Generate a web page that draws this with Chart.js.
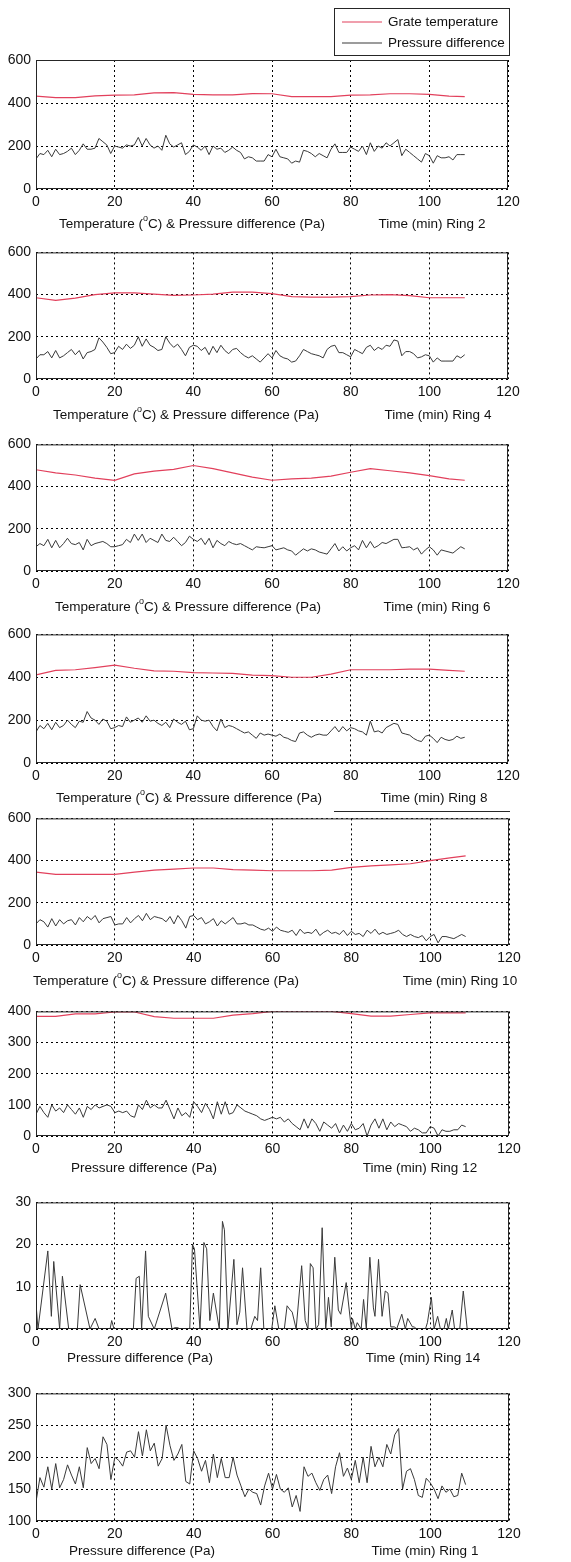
<!DOCTYPE html>
<html>
<head>
<meta charset="utf-8">
<script src="https://cdn.jsdelivr.net/npm/chart.js@4.4.1/dist/chart.umd.min.js"></script>
<style>
  html, body { margin: 0; padding: 0; background: #fff; }
  #page { position: relative; width: 571px; height: 1562px; overflow: hidden; }
  #page canvas { position: absolute; left: 0; }
</style>
</head>
<body>
<div id="page"></div>
<script>
// sampling times (min)
const minutes = Array.from({ length: 110 }, (_, i) => i);
const tempMinutes = [0, 5, 10, 15, 20, 25, 30, 35, 40, 45, 50, 55, 60, 65, 70, 75, 80, 85, 90, 95, 100, 105, 109];

// grate temperature (C)
const ring2Temp = [432, 425, 425, 433, 437, 438, 447, 448, 440, 438, 438, 444, 443, 430, 430, 430, 437, 438, 443, 443, 440, 432, 430];
const ring4Temp = [385, 373, 383, 400, 408, 408, 402, 396, 398, 402, 412, 412, 405, 390, 388, 388, 390, 398, 400, 395, 385, 385, 385];
const ring6Temp = [480, 465, 455, 440, 430, 460, 473, 482, 500, 485, 465, 445, 430, 437, 440, 450, 468, 485, 475, 465, 452, 437, 430];
const ring8Temp = [411, 432, 435, 445, 457, 442, 430, 428, 422, 420, 418, 410, 408, 400, 400, 415, 435, 435, 435, 438, 438, 432, 428];
const ring10Temp = [345, 335, 335, 335, 335, 345, 355, 360, 365, 365, 357, 355, 352, 352, 352, 355, 368, 375, 380, 385, 400, 413, 422];
const ring12Temp = [384, 384, 392, 392, 398, 398, 383, 378, 378, 378, 388, 393, 400, 400, 400, 400, 393, 385, 385, 390, 395, 395, 395];

// pressure difference (Pa), one value per minute
const ring2Pressure = [
  140, 165, 160, 180, 150, 185, 160, 165, 175, 190,
  160, 180, 210, 185, 185, 190, 235, 220, 205, 165,
  200, 195, 190, 205, 200, 205, 240, 200, 235, 205,
  190, 200, 180, 250, 210, 195, 205, 215, 160, 175,
  205, 195, 180, 200, 160, 200, 185, 190, 170, 180,
  195, 180, 170, 140, 150, 145, 130, 130, 130, 160,
  150, 185, 150, 145, 140, 120, 130, 125, 180, 175,
  165, 150, 165, 155, 145, 185, 210, 170, 170, 170,
  195, 185, 175, 200, 160, 215, 175, 200, 190, 215,
  200, 215, 230, 155, 185, 170, 155, 140, 125, 165,
  155, 120, 155, 145, 145, 150, 135, 160, 160, 160];
const ring4Pressure = [
  95, 115, 115, 130, 100, 135, 100, 110, 125, 140,
  115, 135, 95, 125, 130, 140, 195, 175, 150, 120,
  125, 155, 140, 165, 145, 160, 200, 155, 190, 160,
  150, 135, 140, 200, 170, 150, 165, 140, 110, 150,
  160, 155, 135, 150, 115, 155, 125, 160, 135, 120,
  140, 145, 125, 110, 100, 110, 95, 80, 100, 120,
  100, 135, 110, 100, 95, 80, 85, 110, 140, 130,
  120, 115, 110, 100, 140, 155, 160, 125, 125, 115,
  105, 140, 130, 120, 150, 160, 135, 150, 140, 160,
  155, 185, 180, 110, 130, 130, 120, 100, 105, 115,
  110, 80, 100, 85, 85, 85, 85, 110, 100, 115];
const ring6Pressure = [
  115, 130, 120, 150, 110, 145, 110, 130, 155, 130,
  125, 135, 100, 150, 120, 130, 135, 140, 130, 115,
  115, 120, 125, 150, 135, 175, 145, 175, 135, 155,
  145, 135, 175, 145, 140, 160, 140, 120, 135, 165,
  150, 140, 155, 125, 155, 110, 145, 130, 120, 140,
  130, 125, 130, 120, 110, 100, 115, 112, 110, 115,
  120, 100, 105, 110, 100, 95, 75, 90, 105, 95,
  105, 100, 90, 85, 80, 105, 130, 95, 115, 95,
  110, 120, 100, 145, 110, 140, 110, 120, 135, 130,
  140, 150, 150, 110, 112, 115, 100, 110, 80, 100,
  115, 100, 75, 100, 95, 90, 85, 100, 115, 105];
const ring8Pressure = [
  145, 175, 160, 185, 155, 190, 165, 175, 200, 180,
  165, 195, 190, 240, 210, 200, 180, 205, 195, 160,
  165, 175, 170, 215, 190, 200, 210, 190, 220, 195,
  200, 185, 175, 190, 165, 205, 190, 180, 195, 155,
  160, 220, 200, 195, 200, 170, 150, 205, 165, 175,
  170, 160, 150, 140, 145, 130, 115, 140, 130, 135,
  130, 125, 135, 120, 115, 105, 100, 140, 145, 130,
  120, 130, 135, 130, 130, 150, 170, 145, 170, 150,
  165, 160, 150, 145, 130, 195, 145, 150, 140, 165,
  175, 185, 180, 140, 135, 130, 115, 105, 100, 125,
  130, 115, 95, 120, 110, 105, 110, 125, 115, 120];
const ring10Pressure = [
  100, 120, 110, 85, 125, 90, 120, 100, 115, 120,
  95, 130, 110, 135, 120, 140, 105, 125, 130, 135,
  95, 100, 100, 130, 105, 125, 140, 115, 150, 120,
  135, 130, 125, 110, 135, 100, 140, 115, 80, 135,
  140, 120, 130, 100, 110, 125, 90, 115, 100, 115,
  130, 100, 100, 105, 95, 95, 85, 75, 70, 80,
  65, 85, 70, 65, 60, 70, 45, 75, 55, 60,
  55, 75, 45, 60, 70, 55, 60, 50, 70, 45,
  65, 50, 55, 40, 70, 55, 75, 50, 60, 50,
  55, 60, 70, 50, 40, 50, 40, 35, 45, 20,
  40, 50, 10, 40, 40, 35, 30, 40, 50, 40];
const ring12Pressure = [
  70, 95, 75, 60, 100, 80, 90, 75, 100, 85,
  70, 90, 60, 95, 85, 100, 90, 95, 100, 95,
  75, 80, 75, 80, 65, 60, 100, 85, 115, 90,
  100, 90, 90, 115, 85, 55, 90, 65, 75, 60,
  110, 95, 75, 105, 85, 55, 110, 70, 110, 70,
  75, 100, 90, 80, 75, 70, 65, 55, 50, 55,
  60, 55, 60, 45, 55, 40, 30, 20, 55, 25,
  55, 40, 15, 45, 35, 25, 40, 10, 35, 15,
  40, 20, 25, 40, 0, 35, 55, 25, 55, 20,
  45, 30, 40, 35, 30, 15, 25, 20, 10, 10,
  30, 25, 0, 20, 15, 15, 20, 20, 35, 30];
// ring 14 is spiky, so it keeps its own turning points
const ring14Minutes = [
  0, 0.5, 3, 3.9, 4.5, 6, 6.7, 8.3, 10.5, 11.2,
  13.7, 15, 16, 18.8, 19.2, 19.8, 24.7, 25.4, 26.2, 26.8,
  27.8, 28.5, 30, 32.9, 34.5, 35.2, 36, 36.5, 39, 39.7,
  40.2, 41.6, 42.6, 43.3, 44.1, 45, 46.5, 47.3, 47.8, 48.7,
  50.2, 51, 51.7, 52.4, 53.5, 54.5, 55.5, 56.2, 57, 57.8,
  59.8, 60.6, 61.6, 63, 63.7, 64.5, 65, 66, 67.4, 68.3,
  69, 69.6, 70.3, 71, 71.7, 72.6, 73.5, 74.2, 74.9, 75.8,
  76.7, 77.3, 78.7, 80, 80.3, 81, 81.5, 82.5, 83.1, 83.8,
  84.7, 85.6, 86, 86.9, 87.8, 88.6, 89.3, 90, 91, 91.5,
  92.8, 93.7, 94.3, 95.5, 96, 96.5, 98.8, 99.3, 100.3, 101,
  101.9, 102.6, 103.5, 104.1, 104.6, 105.6, 106.2, 107.5, 108.4, 109.4];
const ring14Pressure = [
  6, 0, 18.5, 3, 16, 0, 12.5, 0, 0, 10.5,
  0, 2.5, 0, 0, 2, 0, 0, 12, 12.5, 0,
  18.5, 3, 0, 8.5, 0, 0.3, 0.3, 0, 0, 20,
  19, 0, 20.5, 19, 2, 8.5, 0, 25.5, 23.5, 0,
  16.5, 1, 4, 14.5, 0, 0, 3, 2, 14.5, 0,
  0, 5.5, 0, 0, 5.5, 4.5, 4, 0, 15, 2,
  0, 15.5, 14.5, 0, 1, 24, 0, 7.5, 0.5, 17,
  4.5, 3.5, 11, 0, 2.5, 0, 1.5, 0, 7, 0,
  17, 5, 3, 16.5, 3, 9, 8.5, 0.5, 0.5, 0,
  3.5, 0, 2.5, 0.5, 0.5, 0, 0, 1.5, 7.5, 0,
  3, 0, 0, 2.5, 0, 4.5, 0, 0, 9, 0];
const ring1Pressure = [
  130, 168, 153, 185, 150, 190, 152, 165, 188, 172,
  158, 185, 152, 215, 190, 198, 182, 232, 220, 165,
  200, 195, 186, 208, 210, 200, 240, 202, 243, 210,
  222, 186, 198, 250, 218, 195, 205, 220, 162, 158,
  210, 198, 178, 195, 160, 205, 168, 198, 168, 168,
  200, 172, 155, 138, 150, 145, 143, 125, 155, 175,
  150, 173, 150, 145, 152, 122, 140, 115, 185, 170,
  175, 160, 148, 165, 172, 143, 185, 207, 170, 183,
  165, 195, 160, 200, 160, 217, 185, 200, 185, 220,
  205, 235, 245, 150, 178, 182, 165, 140, 137, 167,
  160, 150, 135, 155, 145, 150, 138, 140, 175, 157];

const TEMP_LABEL = "Grate temperature";
const PRESS_LABEL = "Pressure difference";
const TEMP_PRESS_CAPTION = ["Temperature (", "o", "C) & Pressure difference (Pa)"];
const PRESS_CAPTION = ["Pressure difference (Pa)"];

const FONT = "'Liberation Sans', Arial, sans-serif";
const RED = "rgb(226, 64, 92)";
const DARK = "#3a3a3a";

const points = (xs, ys) => ys.map((y, i) => ({ x: xs[i], y: y }));

// caption parts at odd positions are drawn as superscripts
function drawRich(ctx, parts, cx, y, size) {
  const supSize = Math.round(size * 0.65);
  const widths = parts.map((p, i) => {
    ctx.font = (i % 2 ? supSize : size) + "px " + FONT;
    return ctx.measureText(p).width;
  });
  let x = cx - widths.reduce((a, b) => a + b, 0) / 2;
  parts.forEach((p, i) => {
    ctx.font = (i % 2 ? supSize : size) + "px " + FONT;
    ctx.fillText(p, x, i % 2 ? y - 5 : y);
    x += widths[i];
  });
}

const panelDecor = {
  id: "panelDecor",
  afterDraw(chart, args, opts) {
    const { ctx, chartArea: a } = chart;
    ctx.save();
    ctx.strokeStyle = "#262626";
    ctx.lineWidth = 1;
    ctx.strokeRect(a.left + 0.5, a.top + 0.5, a.right - a.left - 1, a.bottom - a.top - 1);

    ctx.fillStyle = "#111";
    ctx.textAlign = "left";
    ctx.textBaseline = "middle";
    const cy = a.bottom + opts.captionDy;
    drawRich(ctx, opts.caption, opts.captionX, cy, 13.5);
    drawRich(ctx, [opts.ring], opts.ringX, cy, 13.5);

    if (opts.rule) {
      ctx.beginPath();
      ctx.moveTo(opts.rule.x1, a.bottom + opts.rule.dy + 0.5);
      ctx.lineTo(opts.rule.x2, a.bottom + opts.rule.dy + 0.5);
      ctx.stroke();
    }

    if (opts.legend) {
      const L = opts.legend;
      ctx.fillStyle = "#fff";
      ctx.fillRect(L.x, L.y, L.w, L.h);
      ctx.strokeRect(L.x + 0.5, L.y + 0.5, L.w, L.h);
      ctx.font = "13.5px " + FONT;
      chart.data.datasets.forEach((ds, i) => {
        const ly = L.y + 14 + i * 21;
        ctx.strokeStyle = ds.borderColor;
        ctx.lineWidth = 1.2;
        ctx.beginPath();
        ctx.moveTo(L.x + 8, ly);
        ctx.lineTo(L.x + 48, ly);
        ctx.stroke();
        ctx.fillStyle = "#111";
        ctx.fillText(ds.label, L.x + 54, ly);
      });
    }
    ctx.restore();
  }
};

function makePanel(p) {
  const padTop = p.legend ? p.top : 12;
  const canvasTop = p.top - padTop;
  const below = 52;
  const height = p.bottom - canvasTop + below;
  const canvas = document.createElement("canvas");
  canvas.width = 571;
  canvas.height = height;
  canvas.style.top = canvasTop + "px";
  canvas.style.width = "571px";
  canvas.style.height = height + "px";
  document.getElementById("page").appendChild(canvas);

  const datasets = [];
  if (p.temp) {
    datasets.push({ label: TEMP_LABEL, data: points(tempMinutes, p.temp), borderColor: RED, borderWidth: 1.2 });
  }
  datasets.push({ label: PRESS_LABEL, data: points(p.pressMinutes || minutes, p.pressure), borderColor: DARK, borderWidth: 1 });

  const tickFont = { family: FONT, size: 14 };
  const grid = { color: "#000", lineWidth: 1, drawTicks: false };
  const border = { display: false, dash: [2, 3] };

  new Chart(canvas.getContext("2d"), {
    type: "line",
    data: { datasets: datasets },
    options: {
      responsive: false,
      animation: false,
      devicePixelRatio: 1,
      layout: { padding: { top: padTop, right: 571 - p.right, bottom: below - 20, left: 0 } },
      elements: { point: { radius: 0 }, line: { tension: 0 } },
      plugins: {
        legend: { display: false },
        tooltip: { enabled: false },
        panelDecor: {
          caption: p.caption, captionX: p.captionX, captionDy: p.captionDy,
          ring: p.ring, ringX: p.ringX, rule: p.rule, legend: p.legend
        }
      },
      scales: {
        x: {
          type: "linear", min: 0, max: 120,
          ticks: { stepSize: 20, color: "#111", font: tickFont, padding: 5, maxRotation: 0, autoSkip: false },
          grid: grid, border: border,
          afterFit: (s) => { s.height = 20; }
        },
        y: {
          min: p.yMin, max: p.yMax,
          ticks: { stepSize: p.yStep, color: "#111", font: tickFont, padding: 5 },
          grid: grid, border: border,
          afterFit: (s) => { s.width = 36; }
        }
      }
    },
    plugins: [panelDecor]
  });
}

const panels = [
  { top: 60, bottom: 189, right: 508, yMin: 0, yMax: 600, yStep: 200, temp: ring2Temp, pressure: ring2Pressure,
    caption: TEMP_PRESS_CAPTION, captionX: 192, ring: "Time (min) Ring 2", ringX: 432, captionDy: 35,
    legend: { x: 334, y: 8, w: 175, h: 47 } },
  { top: 251, bottom: 379, right: 508, yMin: 0, yMax: 600, yStep: 200, temp: ring4Temp, pressure: ring4Pressure,
    caption: TEMP_PRESS_CAPTION, captionX: 186, ring: "Time (min) Ring 4", ringX: 438, captionDy: 36 },
  { top: 443, bottom: 571, right: 508, yMin: 0, yMax: 600, yStep: 200, temp: ring6Temp, pressure: ring6Pressure,
    caption: TEMP_PRESS_CAPTION, captionX: 188, ring: "Time (min) Ring 6", ringX: 437, captionDy: 36 },
  { top: 633, bottom: 763, right: 508, yMin: 0, yMax: 600, yStep: 200, temp: ring8Temp, pressure: ring8Pressure,
    caption: TEMP_PRESS_CAPTION, captionX: 189, ring: "Time (min) Ring 8", ringX: 434, captionDy: 35,
    rule: { x1: 334, x2: 510, dy: 48 } },
  { top: 817, bottom: 945, right: 509, yMin: 0, yMax: 600, yStep: 200, temp: ring10Temp, pressure: ring10Pressure,
    caption: TEMP_PRESS_CAPTION, captionX: 166, ring: "Time (min) Ring 10", ringX: 460, captionDy: 36 },
  { top: 1010, bottom: 1136, right: 509, yMin: 0, yMax: 400, yStep: 100, temp: ring12Temp, pressure: ring12Pressure,
    caption: PRESS_CAPTION, captionX: 144, ring: "Time (min) Ring 12", ringX: 420, captionDy: 32 },
  { top: 1201, bottom: 1329, right: 509, yMin: 0, yMax: 30, yStep: 10, pressure: ring14Pressure, pressMinutes: ring14Minutes,
    caption: PRESS_CAPTION, captionX: 140, ring: "Time (min) Ring 14", ringX: 423, captionDy: 29 },
  { top: 1392, bottom: 1521, right: 509, yMin: 100, yMax: 300, yStep: 50, pressure: ring1Pressure,
    caption: PRESS_CAPTION, captionX: 142, ring: "Time (min) Ring 1", ringX: 425, captionDy: 30 }
];

panels.forEach(makePanel);
</script>
</body>
</html>
